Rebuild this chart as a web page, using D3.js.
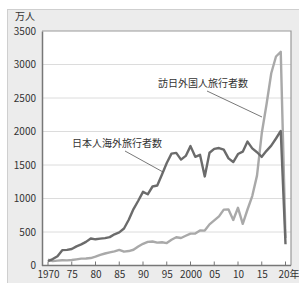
<!DOCTYPE html>
<html><head><meta charset="utf-8">
<script src="https://cdn.jsdelivr.net/npm/d3@7"></script>
<style>
html,body{margin:0;padding:0;background:#fff;}
text{font-family:"Noto Sans CJK JP","Noto Sans",sans-serif;fill:#333;}
</style></head>
<body><svg id="c" width="299" height="283"></svg>
<script>
const years = d3.range(1970, 2021);
const outbound = [66.3,96.1,139.2,228.9,233.6,246.6,285.3,315.1,352.5,403.8,
390.9,400.7,408.6,423.3,465.9,494.8,551.6,682.9,842.7,966.3,
1099.7,1063.4,1179.1,1193.4,1357.9,1529.8,1669.5,1680.3,1580.6,1635.8,
1781.9,1621.6,1652.3,1329.6,1683.1,1740.4,1753.5,1729.5,1598.7,1544.6,
1663.7,1699.4,1849.1,1747.3,1690.3,1621.4,1711.6,1788.9,1895.4,2008.1,317.4];
const inbound = [85.4,66.0,72.4,78.5,76.4,81.2,91.5,102.8,103.9,111.3,
131.7,158.3,179.3,196.8,211.0,232.7,206.2,215.5,235.5,283.5,
323.6,353.3,358.2,341.0,346.8,334.5,383.7,421.8,410.6,443.8,
475.7,477.2,523.9,521.2,613.8,672.8,733.4,834.7,835.1,679.0,
861.1,621.9,835.8,1036.4,1341.3,1973.7,2404.0,2869.1,3119.2,3188.2,411.6];
const yTicks = [0,500,1000,1500,2000,2500,3000,3500];
const yTickLabels = ["0","500","1000","1500","2000","2500","3000","3500"];
const xTicks = [1970,1975,1980,1985,1990,1995,2000,2005,2010,2015,2020];
const xTickLabels = ["1970","75","80","85","90","95","2000","05","10","15","20年"];
const yUnit = "万人";
const labelInbound = "訪日外国人旅行者数";
const labelOutbound = "日本人海外旅行者数";

const FONT = '"Noto Sans CJK JP","Noto Sans",sans-serif';
const svg = d3.select("#c");
const L=42, R=291, T=31, B=265.5;
const x = d3.scaleLinear().domain([1970,2020]).range([48,285.5]);
const y = d3.scaleLinear().domain([0,3500]).range([B,T]);

// panel
svg.append("rect").attr("x",7.5).attr("y",9.5).attr("width",300).attr("height",290)
  .attr("fill","#ececec").attr("stroke","#cfcfcf");
svg.append("rect").attr("x",L).attr("y",T).attr("width",R-L).attr("height",B-T).attr("fill","#fff");

// grid
svg.append("g").selectAll("line").data(yTicks.filter(d=>d>0&&d<3500)).join("line")
  .attr("x1",L).attr("x2",R).attr("y1",d=>y(d)).attr("y2",d=>y(d))
  .attr("stroke","#dcdcdc").attr("stroke-width",1);

// frame
svg.append("path").attr("d",`M${L},${T}H${R}V${B}`).attr("fill","none").attr("stroke","#9a9a9a").attr("stroke-width",1.2);

// y axis
const ya = svg.append("g").attr("transform",`translate(${L},0)`)
  .call(d3.axisLeft(y).tickValues(yTicks).tickSize(0).tickPadding(6).tickFormat((d,i)=>yTickLabels[i]));
ya.select(".domain").attr("stroke","#777").attr("stroke-width",1.5);
ya.selectAll("text").attr("font-size",10).attr("fill","#333").style("font-family",FONT);

// x axis
const xa = svg.append("g").attr("transform",`translate(0,${B})`)
  .call(d3.axisBottom(x).tickValues(xTicks).tickSize(0).tickPadding(5).tickFormat((d,i)=>xTickLabels[i]));
xa.select(".domain").remove();
xa.selectAll("text").attr("font-size",10).attr("fill","#333").style("font-family",FONT)
  .attr("dx",(d,i)=>i===xTicks.length-1?"3":"0");
svg.append("line").attr("x1",L).attr("x2",R).attr("y1",B).attr("y2",B).attr("stroke","#777").attr("stroke-width",1.5);
svg.append("g").selectAll("line").data(xTicks).join("line")
  .attr("x1",d=>x(d)).attr("x2",d=>x(d)).attr("y1",B).attr("y2",B-4).attr("stroke","#777").attr("stroke-width",1);

svg.append("text").attr("x",15).attr("y",19.5).attr("font-size",10).text(yUnit);

// lines
const line = d3.line().x((d,i)=>x(years[i])).y(d=>y(d));
svg.append("path").datum(inbound).attr("d",line).attr("fill","none")
  .attr("stroke","#a9a9a9").attr("stroke-width",2.4).attr("stroke-linejoin","round");
svg.append("path").datum(outbound).attr("d",line).attr("fill","none")
  .attr("stroke","#6b6b6b").attr("stroke-width",2.4).attr("stroke-linejoin","round");

// labels
svg.append("text").attr("x",158).attr("y",87).attr("font-size",10).text(labelInbound);
svg.append("line").attr("x1",207).attr("y1",91).attr("x2",262).attr("y2",117).attr("stroke","#555").attr("stroke-width",0.8);
svg.append("text").attr("x",72).attr("y",147).attr("font-size",10).text(labelOutbound);
svg.append("line").attr("x1",125).attr("y1",151).attr("x2",163).attr("y2",172).attr("stroke","#555").attr("stroke-width",0.8);
</script></body></html>
